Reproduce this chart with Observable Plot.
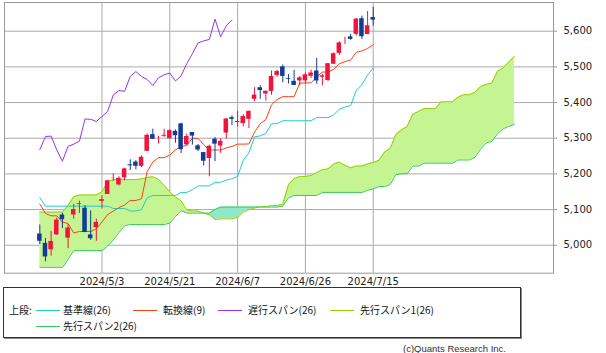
<!DOCTYPE html>
<html><head><meta charset="utf-8">
<script src="https://cdn.jsdelivr.net/npm/d3@7"></script>
<script src="https://cdn.jsdelivr.net/npm/@observablehq/plot@0.6"></script>
<style>
body{margin:0;background:#fff;}
#wrap{position:relative;width:606px;height:353px;overflow:hidden;background:#fff;}
#chart{position:absolute;left:0;top:0;}
.legend{position:absolute;left:3px;top:287px;width:516px;height:49px;border:1px solid #333;box-shadow:1px 1px 0 #888;font-family:"Noto Sans CJK JP";font-size:10px;color:#111;}
.item{position:absolute;white-space:nowrap;line-height:12px;}
.sw{position:absolute;height:1px;width:24px;}
.caption{position:absolute;right:100px;top:343px;font:9.5px "Liberation Sans";color:#333;white-space:nowrap;}
</style></head><body>
<div id="wrap"><div id="chart"></div><div class="legend" id="legend"></div><div class="caption">(c)Quants Research Inc.</div></div>
<script>
const dates = ["4/18","4/19","4/22","4/23","4/24","4/25","4/26","4/29","4/30","5/1","5/2","5/3","5/6","5/7","5/8","5/9","5/10","5/13","5/14","5/15","5/16","5/17","5/20","5/21","5/22","5/23","5/24","5/28","5/29","5/30","5/31","6/3","6/4","6/5","6/6","6/7","6/10","6/11","6/12","6/13","6/14","6/17","6/18","6/20","6/21","6/24","6/25","6/26","6/27","6/28","7/1","7/2","7/3","7/5","7/8","7/9","7/10","7/11","7/12","7/15"];
const open = [5031.5,5005.4,4987.3,5028.9,5084.9,5019.9,5084.7,5114.1,5103.8,5029.0,5049.3,5122.8,5142.4,5187.2,5169.0,5189.0,5225.5,5233.1,5221.1,5263.3,5310.1,5303.1,5305.4,5298.7,5319.3,5340.3,5281.5,5315.9,5278.7,5259.8,5243.2,5297.2,5278.2,5314.5,5357.8,5343.8,5341.2,5353.0,5409.1,5441.5,5424.1,5431.1,5476.2,5500.0,5466.8,5459.6,5460.7,5460.7,5473.6,5488.5,5471.1,5461.8,5507.4,5537.9,5572.8,5584.2,5591.3,5635.2,5590.8,5638.2];
const high = [5056.7,5019.0,5038.8,5076.1,5089.5,5057.8,5114.6,5123.5,5110.8,5096.1,5073.2,5139.1,5181.0,5200.2,5192.0,5215.3,5239.7,5237.3,5250.4,5311.8,5325.5,5305.5,5325.3,5324.3,5323.2,5341.9,5311.7,5315.9,5282.3,5260.2,5280.3,5302.1,5298.8,5354.2,5362.4,5375.1,5365.8,5376.0,5441.9,5447.3,5432.4,5488.5,5490.4,5505.5,5478.3,5490.7,5472.9,5483.1,5490.8,5523.6,5479.6,5509.7,5539.3,5570.3,5583.1,5590.8,5635.4,5642.5,5655.6,5666.9];
const low = [5001.9,4953.6,4969.4,5028.0,5047.0,4990.6,5073.1,5088.7,5035.3,5013.5,5011.1,5101.2,5142.4,5179.0,5165.9,5180.4,5209.7,5211.2,5218.0,5263.3,5296.2,5283.6,5302.4,5297.9,5286.0,5256.9,5278.4,5280.9,5262.7,5222.1,5191.7,5234.3,5257.6,5297.6,5335.4,5331.3,5331.5,5327.3,5402.5,5409.1,5403.8,5420.4,5471.3,5455.6,5452.0,5447.6,5446.6,5451.9,5467.5,5451.1,5446.5,5458.4,5507.4,5531.6,5562.5,5574.6,5586.4,5576.5,5590.4,5614.1];
const close = [5011.1,4967.2,5010.6,5070.6,5071.6,5048.4,5100.0,5116.2,5035.7,5018.4,5064.2,5127.8,5180.7,5187.7,5187.7,5214.1,5222.7,5221.4,5246.7,5308.2,5297.1,5303.3,5308.1,5321.4,5307.0,5267.8,5304.7,5306.0,5267.0,5235.5,5277.5,5283.4,5291.3,5354.0,5353.0,5347.0,5360.8,5375.3,5421.0,5433.7,5431.6,5473.2,5487.0,5473.2,5464.6,5447.9,5469.3,5477.9,5482.9,5460.5,5475.1,5509.0,5537.0,5567.2,5572.9,5577.0,5633.9,5584.5,5615.4,5631.2];
// 基準線(26)
const kijun = [5133.5,5109.5,5109.5,5109.5,5109.5,5109.5,5109.5,5109.5,5109.5,5109.5,5109.5,5109.5,5109.5,5103,5103,5103,5096,5096,5100,5133,5139.5,5139.5,5139.5,5139.5,5139.5,5148,5148,5155.5,5166.5,5166.5,5166.5,5176.5,5176.5,5182.5,5186.5,5193,5238,5259,5304,5306.5,5313.5,5340.5,5341,5349,5349,5349,5349,5349,5349,5358,5358,5358,5365.5,5381,5387.5,5391.5,5434.5,5450,5477,5497];
// 転換線(9)
const tenkan = [5115.5,5089,5082.5,5082.5,5065,5061,5034.5,5038.5,5038.5,5038.5,5046,5065,5086,5095.5,5105.5,5113,5125.5,5125.5,5130.5,5206.5,5233.5,5245.5,5245.5,5252.5,5267.5,5276.5,5280,5299.5,5299.5,5282,5267,5267,5267,5273,5277,5283.5,5283.5,5284,5317,5340.5,5352.5,5393.5,5408.5,5416.5,5416.5,5416.5,5454.5,5455,5455,5472,5485.5,5485.5,5493,5508.5,5515,5519,5541,5544.5,5551.5,5562.5];
// 先行スパン1 / 2 (positions 0..84, last 25 projected ahead)
const senkouA = [5093,5093,5093,5093,5093,5112,5136,5141,5141,5141,5141,5150,5178,5184,5184,5184,5184,5184,5186,5190,5192,5185,5168,5150,5135,
5124.5,5099,5096,5096,5090,5085,5072,5074,5074,5074,5078,5092,5100,5104,5108,5108,5111,5111,5115,5170,5186.5,5192.5,5192.5,5196,5203.5,
5212,5214,5227.5,5233,5224,5217,5222,5222,5228,5232,5238,5261,5271.5,5310.5,5323.5,5333,5367,5375,5383,5383,5383,5402,5402,5402,5415,5422,5422,5429,5445,5451,5455,5488,5497,5514,5530];
const senkouB = [4938,4938,4938,4938,4938,4960,4985,4985,4985,4985,4985,4985,4998,5015,5035,5055,5058,5058,5058,5058,5058,5058,5058,5062,5080,
5097,5090,5090,5090,5090,5090,5100,5107,5107,5107,5107,5107,5107,5107,5107,5107,5107,5107,5109.5,5133,5139.5,5139.5,5139.5,5139.5,5139.5,
5148,5148,5148,5148,5148,5148,5148,5148,5154,5158,5164.5,5164.5,5170,5198,5200.5,5200.5,5222,5222,5230,5230,5230,5230,5230,5230,5239,5239,5239,5246.5,5269.5,5287,5291,5313,5326.5,5333.5,5339];
const yTicks = [5000,5100,5200,5300,5400,5500,5600];
const tickDates = ["5/3","5/21","6/7","6/26","7/15"];
const tickLabels = ["2024/5/3","2024/5/21","2024/6/7","2024/6/26","2024/7/15"];
const legendLabels = ["基準線(26)","転換線(9)","遅行スパン(26)","先行スパン1(26)","先行スパン2(26)"];
const colors = {kijun:"#22cccc", tenkan:"#ff4010", chikou:"#9933ee", spanA:"#99cc00", spanB:"#33cc55", up:"#f0143c", down:"#123c96", cloud:"#c5f592", cloudRev:"#90e8c8", grid:"#aaaaaa"};
const SHIFT = 25;

const candles = dates.map((d,i)=>({p:i, o:open[i], h:high[i], l:low[i], c:close[i]}));
const col = d => d.c >= d.o ? colors.up : colors.down;
const cloud = senkouA.map((a,p)=>({p, a, b:senkouB[p], top:Math.max(a, senkouB[p])}));
const chikou = close.slice(SHIFT).map((c,j)=>({p:j, v:c}));
const kij = kijun.map((v,i)=>({p:i, v}));
const ten = tenkan.map((v,i)=>({p:i, v}));
const xTickPos = tickDates.map(d=>dates.indexOf(d));
const half = 0.4;

const chart = Plot.plot({
  width: 606, height: 287,
  marginLeft: 4, marginRight: 53, marginTop: 2, marginBottom: 14.3,
  style: {fontFamily: "DejaVu Sans", fontSize: "10px", color: "#222", background: "#fff"},
  x: {type: "linear", domain: [-6.25, 90.9]},
  y: {domain: [4921.6, 5680.5]},
  color: {type: "identity"},
  marks: [
    Plot.gridY(yTicks, {stroke: colors.grid, strokeOpacity: 1}),
    Plot.gridX(xTickPos, {stroke: colors.grid, strokeOpacity: 1}),
    Plot.areaY(cloud, {x: "p", y1: "b", y2: "top", fill: colors.cloud}),
    Plot.areaY(cloud, {x: "p", y1: "a", y2: "top", fill: colors.cloudRev}),
    Plot.lineY(cloud, {x: "p", y: "a", stroke: colors.spanA, strokeWidth: 1}),
    Plot.lineY(cloud, {x: "p", y: "b", stroke: colors.spanB, strokeWidth: 1}),
    Plot.lineY(chikou, {x: "p", y: "v", stroke: colors.chikou, strokeWidth: 1}),
    Plot.lineY(kij, {x: "p", y: "v", stroke: colors.kijun, strokeWidth: 1}),
    Plot.lineY(ten, {x: "p", y: "v", stroke: colors.tenkan, strokeWidth: 1}),
    Plot.ruleX(candles, {x: "p", y1: "l", y2: "h", stroke: col, strokeWidth: 1}),
    Plot.rect(candles, {x1: d=>d.p-half, x2: d=>d.p+half, y1: "o", y2: "c", fill: col}),
    Plot.frame({stroke: "#999"}),
    Plot.axisY(yTicks, {anchor: "right", tickSize: 3, tickPadding: 7, stroke: "#999", fill: "#222", tickFormat: d3.format(","), label: null}),
    Plot.axisX(xTickPos, {anchor: "bottom", tickSize: 0, tickPadding: 5, fill: "#222", tickFormat: (d,i)=>tickLabels[xTickPos.indexOf(d)], label: null})
  ]
});
document.getElementById("chart").appendChild(chart);

// legend
const lg = document.getElementById("legend");
const legendColors = [colors.kijun, colors.tenkan, colors.chikou, colors.spanA, colors.spanB];
const lpos = [[32,59,16],[129,159,16],[214,244,16],[326,356,16],[32,59,32]];
const head = document.createElement("div");
head.className = "item"; head.style.left = "5px"; head.style.top = "16px"; head.textContent = "上段:";
lg.appendChild(head);
legendLabels.forEach((t,i)=>{
  const [sx, tx, ty] = lpos[i];
  const sw = document.createElement("div");
  sw.className = "sw"; sw.style.left = sx+"px"; sw.style.top = (ty+6)+"px"; sw.style.background = legendColors[i];
  lg.appendChild(sw);
  const tt = document.createElement("div");
  tt.className = "item"; tt.style.left = tx+"px"; tt.style.top = ty+"px"; tt.textContent = t;
  lg.appendChild(tt);
});
</script>
</body></html>
